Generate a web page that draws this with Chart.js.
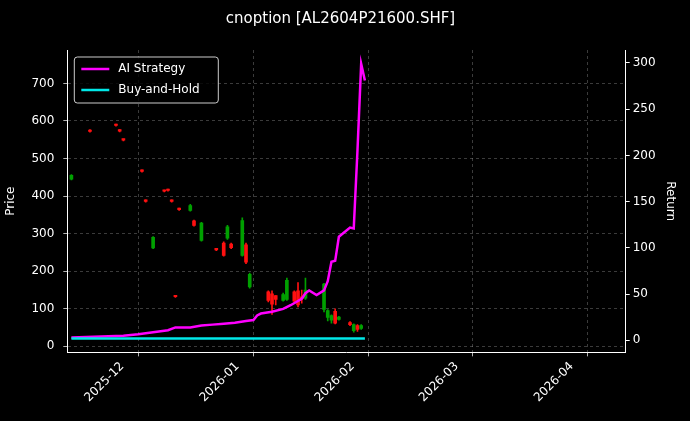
<!DOCTYPE html>
<html>
<head>
<meta charset="utf-8">
<script src="https://cdn.jsdelivr.net/npm/chart.js@4"></script>
<style>
  html, body { margin: 0; background: #000; }
  #wrap { width: 690px; height: 421px; }
</style>
</head>
<body>
<div id="wrap"><canvas id="chart"></canvas></div>
<script>
// day numbers counted from 2025-11-01 (day 0)
const candleDays = [12, 17, 24, 25, 26, 31, 32, 34, 37, 38, 39, 40, 41, 44, 45, 47, 51, 53, 54, 55, 58, 59, 60, 65, 66, 67, 69, 70, 72, 73, 74, 75, 80, 81, 82, 83, 84, 87, 88, 89, 90];
const candleOpen  = [445, 575, 590, 575, 550, 468, 388, 262, 415, 417, 388, 134, 366, 362, 334, 282, 259, 275, 288, 272, 242, 270, 158, 145, 140, 135, 122, 125, 145, 148, 132, 128, 98, 77, 70, 93, 72, 63, 42, 55, 48];
const candleClose = [455, 572, 588, 573, 549, 466, 386, 290, 413, 415, 386, 132, 364, 375, 322, 328, 257, 242, 318, 263, 335, 224, 192, 122, 112, 125, 138, 176, 120, 110, 127, 150, 166, 95, 82, 62, 78, 58, 58, 45, 55];
const candleHigh  = [457, 577, 592, 577, 552, 470, 390, 292, 416, 419, 390, 136, 368, 378, 336, 330, 261, 278, 322, 275, 342, 275, 195, 148, 148, 135, 142, 182, 148, 170, 150, 182, 168, 98, 84, 100, 80, 66, 60, 58, 58];
const candleLow   = [443, 570, 586, 571, 547, 464, 384, 260, 411, 413, 384, 130, 362, 360, 320, 280, 255, 240, 285, 260, 240, 220, 155, 118, 85, 110, 120, 122, 118, 105, 115, 125, 92, 68, 62, 60, 70, 55, 38, 40, 45];

const stratDays = [12, 26, 30, 34, 38, 40, 44, 47, 50, 53, 56, 59, 61, 62, 63, 66, 69, 71, 74, 75, 76, 78, 80, 81, 82, 83, 84, 87, 88, 89, 90, 91];
const stratRet  = [3, 5, 6.5, 8.7, 11, 14, 14, 16, 17, 18, 19, 21, 22, 27, 29, 31, 34, 38, 45, 51, 54, 49, 54, 64, 85, 86, 112, 122, 121, 205, 299, 281];
const holdDays = [12, 91];
const holdRet  = [2, 2];

const monthTicks = [30, 61, 92, 120, 151];
const monthLabels = ['2025-12', '2026-01', '2026-02', '2026-03', '2026-04'];

const up = candleDays.map((d, i) => candleClose[i] >= candleOpen[i]);
const bodyColors = up.map(u => u ? '#00a000' : '#ff1010');

const gridCfg = { color: 'rgba(170,170,170,0.5)', lineWidth: 0.7, tickColor: '#fff', tickLength: 4, offset: false };

// legend drawn inside the plot, top-left
const innerLegend = {
  id: 'innerLegend',
  afterDraw(chart) {
    const { ctx, chartArea } = chart;
    const x = chartArea.left + 7, y = chartArea.top + 7;
    ctx.save();
    ctx.fillStyle = 'rgba(0,0,0,0.8)';
    ctx.strokeStyle = '#ccc';
    ctx.lineWidth = 1;
    ctx.beginPath();
    ctx.roundRect(x, y, 144, 46, 3);
    ctx.fill(); ctx.stroke();
    ctx.font = '12px "DejaVu Sans"';
    ctx.textBaseline = 'middle';
    [['AI Strategy', '#ff00ff'], ['Buy-and-Hold', '#00e8e8']].forEach((it, i) => {
      const yy = y + 12 + i * 21;
      ctx.strokeStyle = it[1]; ctx.lineWidth = 2.5;
      ctx.beginPath(); ctx.moveTo(x + 7, yy); ctx.lineTo(x + 35, yy); ctx.stroke();
      ctx.fillStyle = '#fff';
      ctx.fillText(it[0], x + 44, yy);
    });
    ctx.restore();
  }
};

Chart.defaults.color = '#fff';
Chart.defaults.font.family = '"DejaVu Sans"';
Chart.defaults.font.size = 12;

new Chart(document.getElementById('chart'), {
  data: {
    datasets: [
      {
        type: 'bar', label: 'wick', yAxisID: 'y',
        data: candleDays.map((d, i) => ({ x: d, y: [candleLow[i], candleHigh[i]] })),
        backgroundColor: bodyColors, barThickness: 1, grouped: false, order: 3
      },
      {
        type: 'bar', label: 'body', yAxisID: 'y',
        data: candleDays.map((d, i) => ({ x: d, y: [candleOpen[i], candleClose[i]] })),
        backgroundColor: bodyColors, barThickness: 3, grouped: false, minBarLength: 1.5, order: 2
      },
      {
        type: 'line', label: 'AI Strategy', yAxisID: 'y1',
        data: stratDays.map((d, i) => ({ x: d, y: stratRet[i] })),
        borderColor: '#ff00ff', borderWidth: 2.5, pointRadius: 0, order: 1
      },
      {
        type: 'line', label: 'Buy-and-Hold', yAxisID: 'y1',
        data: holdDays.map((d, i) => ({ x: d, y: holdRet[i] })),
        borderColor: '#00e8e8', borderWidth: 2.5, pointRadius: 0, order: 0
      }
    ]
  },
  options: {
    responsive: true,
    maintainAspectRatio: false,
    animation: false,
    layout: { padding: { left: 0, right: 9, top: 4, bottom: 13 } },
    plugins: {
      legend: { display: false },
      tooltip: { enabled: false },
      title: { display: true, text: 'cnoption [AL2604P21600.SHF]', color: '#fff', font: { size: 15, weight: 'normal' }, padding: { top: 6, bottom: 22 } }
    },
    scales: {
      x: {
        type: 'linear', min: 10.9, max: 161.2, offset: false,
        grid: { ...gridCfg },
        border: { color: '#fff', dash: [3, 3] },
        afterBuildTicks: s => { s.ticks = monthTicks.map(v => ({ value: v })); },
        ticks: {
          autoSkip: false, maxRotation: 45, minRotation: 45, labelOffset: -16,
          callback: v => monthLabels[monthTicks.indexOf(v)]
        }
      },
      y: {
        position: 'left', min: -16, max: 789,
        title: { display: true, text: 'Price', color: '#fff' },
        grid: { ...gridCfg },
        border: { color: '#fff', dash: [3, 3] },
        ticks: { padding: 9 },
        afterBuildTicks: s => { s.ticks = [0,100,200,300,400,500,600,700].map(v => ({ value: v })); }
      },
      y1: {
        position: 'right', min: -13, max: 314,
        title: { display: true, text: 'Return', color: '#fff' },
        grid: { drawOnChartArea: false, tickColor: '#fff', tickLength: 4 },
        border: { color: '#fff' },
        afterBuildTicks: s => { s.ticks = [0,50,100,150,200,250,300].map(v => ({ value: v })); }
      }
    }
  },
  plugins: [innerLegend]
});
</script>
</body>
</html>
